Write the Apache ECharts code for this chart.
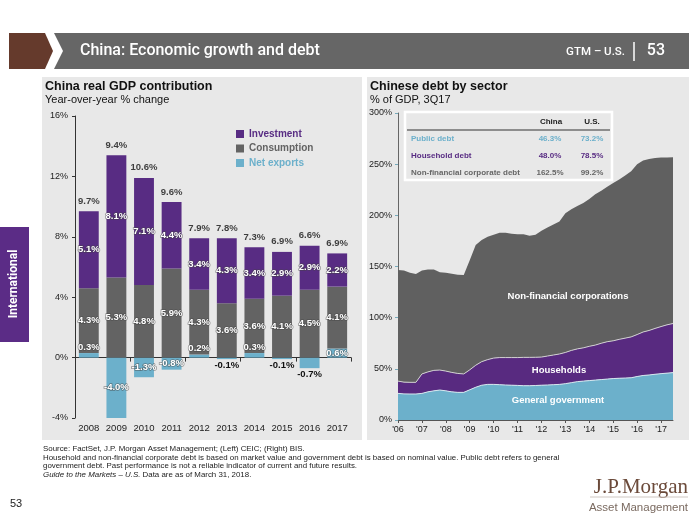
<!DOCTYPE html>
<html><head><meta charset="utf-8">
<script src="https://cdn.jsdelivr.net/npm/echarts@6/dist/echarts.min.js"></script>
<style>html,body{margin:0;padding:0;background:#fff}#c{width:700px;height:525px}</style>
</head><body><div id="c"></div>
<script>
// ---- Left chart: China real GDP contribution (YoY %) ----
const years = ['2008','2009','2010','2011','2012','2013','2014','2015','2016','2017'];
const investment  = [5.1, 8.1, 7.1, 4.4, 3.4, 4.3, 3.4, 2.9, 2.9, 2.2];
const consumption = [4.3, 5.3, 4.8, 5.9, 4.3, 3.6, 3.6, 4.1, 4.5, 4.1];
const netExports  = [0.3, -4.0, -1.3, -0.8, 0.2, -0.1, 0.3, -0.1, -0.7, 0.6];
const gdpTotal    = [9.7, 9.4, 10.6, 9.6, 7.9, 7.8, 7.3, 6.9, 6.6, 6.9];

// ---- Right chart: Chinese debt by sector (% of GDP), quarterly from 2006Q1 to 2017Q3 ----
const debtStartYear = 2006;
const govDebt = [26,25.5,25.4,25.4, 26,27.5,28.5,29.3, 28.5,27.5,27,27, 29.5,32,34,34.8,
  34.8,34.5,34.2,34, 33.8,33.5,33.5,33.7, 34,34.2,34.5,34.8, 35.5,36.5,37.5,38,
  38.5,39,39.5,40, 40.5,40.8,41,41.3, 42.5,43.5,44,44.7, 45.3,45.8,46.3];
const householdDebt = [12,11.5,11.4,11.4, 19,19.5,20,19.5, 19.3,19,18.5,18, 19.5,21.5,23,24.2,
  25.7,26.5,26.8,27, 27.2,27.7,27.7,27.6, 27.5,28.3,29,29.7, 30.5,31.5,32,32.5,
  33.5,34.2,35.5,36.5, 36.9,38,39,39.9, 41,42.5,43.5,44.8, 46,47.2,48.0];
const corporateDebt = [108.5,109,107.2,105.8, 101,100,98.5,95.7, 96.2,96.5,96.5,96.6, 107,117.5,119,120,
  120.5,122,122,121, 120.6,120.3,118.8,119.7, 123.5,125.5,127.5,129.5, 136,138,139.5,141.5,
  144,147.3,149,151.5, 154.1,156.2,159,161.8, 166.5,167.5,167.5,166.5, 165.2,163.5,162.5];
const debtYearLabels = ["'06","'07","'08","'09","'10","'11","'12","'13","'14","'15","'16","'17"];
const quarters = govDebt.map((v, i) => (debtStartYear + Math.floor(i / 4)) + 'Q' + (i % 4 + 1));

const tableRows  = ['Public debt', 'Household debt', 'Non-financial corporate debt'];
const chinaDebt  = ['46.3%', '48.0%', '162.5%'];
const usDebt     = ['73.2%', '78.5%', '99.2%'];

const C = {inv:'#582c83', con:'#636363', net:'#6cb0cb', corp:'#606060', panel:'#e8e8e8'};
const FF = '"Liberation Sans", Arial, sans-serif';
const FN = 'Roboto, "Liberation Sans", sans-serif';

const pct = v => v.toFixed(1) + '%';
const inLbl = {show:true, position:'inside', color:'#fff', fontSize:9.5, fontWeight:'bold', fontFamily:FF,
  textBorderColor:'rgba(70,70,70,0.55)', textBorderWidth:1.5,
  formatter: p => pct(p.value)};

const netData = netExports.map(v => {
  let label;
  if (v >= 0.5 || v <= -0.8) label = {position:'inside', color:'#fff'};
  else if (v > 0) label = {position:'top', color:'#fff', distance:1};
  else label = {position:'bottom', color:'#111', distance:1, textBorderWidth:0};
  return {value:v, label};
});
const topData = years.map((y, i) => {
  const s = [netExports[i], consumption[i], investment[i]].filter(v => v > 0).reduce((a, b) => a + b, 0);
  return [i, s];
});

const rowColors = [C.net, C.inv, '#666'];
const graphics = [
  {type:'rect', shape:{x:42,y:77,width:320,height:363}, style:{fill:C.panel}, z:-10},
  {type:'rect', shape:{x:367,y:77,width:322,height:363}, style:{fill:C.panel}, z:-10},
  {type:'polygon', shape:{points:[[9,33],[45,33],[53,51],[45,69],[9,69]]}, style:{fill:'#653a2c'}},
  {type:'polygon', shape:{points:[[54,33],[689,33],[689,69],[54,69],[63,51]]}, style:{fill:'#666666'}},
  {type:'text', x:80, y:51, style:{text:'China: Economic growth and debt', fill:'#fff', font:'500 16px '+FN, textVerticalAlign:'middle'}},
  {type:'text', x:625, y:52, style:{text:'GTM – U.S.', fill:'#fff', font:'500 11.5px '+FN, textAlign:'right', textVerticalAlign:'middle'}},
  {type:'line', shape:{x1:634,y1:42,x2:634,y2:61}, style:{stroke:'#fff', lineWidth:1.5}},
  {type:'text', x:665, y:51, style:{text:'53', fill:'#fff', font:'500 16px '+FN, textAlign:'right', textVerticalAlign:'middle'}},
  {type:'rect', shape:{x:0,y:227,width:29,height:115}, style:{fill:'#5b2c86'}},
  {type:'text', x:14, y:284, rotation:Math.PI/2, style:{text:'International', fill:'#fff', font:'bold 12px '+FN, textAlign:'center', textVerticalAlign:'middle'}},
  {type:'text', x:45, y:87, style:{text:'China real GDP contribution', fill:'#111', font:'bold 12.5px '+FF, textVerticalAlign:'middle'}},
  {type:'text', x:45, y:100, style:{text:'Year-over-year % change', fill:'#111', font:'11px '+FF, textVerticalAlign:'middle'}},
  {type:'text', x:370, y:87, style:{text:'Chinese debt by sector', fill:'#111', font:'bold 12.5px '+FF, textVerticalAlign:'middle'}},
  {type:'text', x:370, y:100, style:{text:'% of GDP, 3Q17', fill:'#111', font:'11px '+FF, textVerticalAlign:'middle'}},
  // table
  {type:'rect', shape:{x:405,y:112,width:207,height:68}, style:{fill:'none', stroke:'#fff', lineWidth:2.5}, z:50},
  {type:'text', x:551, y:122, style:{text:'China', fill:'#222', font:'bold 8px '+FF, textAlign:'center', textVerticalAlign:'middle'}, z:50},
  {type:'text', x:592, y:122, style:{text:'U.S.', fill:'#222', font:'bold 8px '+FF, textAlign:'center', textVerticalAlign:'middle'}, z:50},
  {type:'line', shape:{x1:407,y1:130,x2:610,y2:130}, style:{stroke:'#333', lineWidth:1.2}, z:50},
  ...tableRows.flatMap((r, i) => {
    const y = 139 + i * 16.8;
    return [
      {type:'text', x:411, y, style:{text:r, fill:rowColors[i], font:'bold 8px '+FF, textVerticalAlign:'middle'}, z:50},
      {type:'text', x:550, y, style:{text:chinaDebt[i], fill:rowColors[i], font:'bold 8px '+FF, textAlign:'center', textVerticalAlign:'middle'}, z:50},
      {type:'text', x:592, y, style:{text:usDebt[i], fill:rowColors[i], font:'bold 8px '+FF, textAlign:'center', textVerticalAlign:'middle'}, z:50}
    ];
  }),
  {type:'text', x:568, y:296, style:{text:'Non-financial corporations', fill:'#fff', font:'bold 9.5px '+FF, textAlign:'center', textVerticalAlign:'middle'}, z:50},
  {type:'text', x:559, y:370, style:{text:'Households', fill:'#fff', font:'bold 9.5px '+FF, textAlign:'center', textVerticalAlign:'middle'}, z:50},
  {type:'text', x:558, y:400, style:{text:'General government', fill:'#fff', font:'bold 9.5px '+FF, textAlign:'center', textVerticalAlign:'middle'}, z:50},
  // footer
  {type:'text', x:43, y:449, style:{text:'Source: FactSet, J.P. Morgan Asset Management; (Left) CEIC; (Right) BIS.', fill:'#222', font:'7.9px '+FF, textVerticalAlign:'middle'}},
  {type:'text', x:43, y:457.5, style:{text:'Household and non-financial corporate debt is based on market value and government debt is based on nominal value. Public debt refers to general', fill:'#222', font:'7.9px '+FF, textVerticalAlign:'middle'}},
  {type:'text', x:43, y:466, style:{text:'government debt. Past performance is not a reliable indicator of current and future results.', fill:'#222', font:'7.9px '+FF, textVerticalAlign:'middle'}},
  {type:'text', x:43, y:474.5, style:{text:'{i|Guide to the Markets – U.S.} Data are as of March 31, 2018.', fill:'#222', font:'7.9px '+FF, textVerticalAlign:'middle',
     rich:{i:{fontStyle:'italic', fontSize:7.9, fontFamily:FF, fill:'#222'}}}},
  {type:'text', x:10, y:504, style:{text:'53', fill:'#222', font:'11px '+FF, textVerticalAlign:'middle'}},
  {type:'text', x:688, y:487, style:{text:'J.P.Morgan', fill:'#6b4a3a', font:'21px "Liberation Serif", "DejaVu Serif", serif', textAlign:'right', textVerticalAlign:'middle'}},
  {type:'line', shape:{x1:590,y1:497,x2:688,y2:497}, style:{stroke:'#cfc7c2', lineWidth:1}},
  {type:'text', x:688, y:508, style:{text:'Asset Management', fill:'#7a6a60', font:'11.5px '+FF, textAlign:'right', textVerticalAlign:'middle'}}
];

const option = {
  animation:false,
  backgroundColor:'#fff',
  textStyle:{fontFamily:FF},
  grid:[{left:75, right:349, top:116, bottom:107}, {left:398, right:27, top:113, bottom:105}],
  legend:{left:231, top:124, orient:'vertical', itemWidth:8, itemHeight:8, itemGap:4.5, icon:'rect',
    textStyle:{fontSize:10, fontWeight:'bold', fontFamily:FF},
    data:[{name:'Investment', textStyle:{color:C.inv}}, {name:'Consumption', textStyle:{color:C.con}}, {name:'Net exports', textStyle:{color:C.net}}]},
  xAxis:[
    {gridIndex:0, type:'category', data:years, axisLine:{show:false, onZero:false}, axisTick:{show:false},
     axisLabel:{margin:5, fontSize:9.5, color:'#222'}},
    {gridIndex:0, type:'category', data:years, position:'bottom', axisLine:{show:true, onZero:true, lineStyle:{color:'#333'}},
     axisTick:{show:true, length:4, lineStyle:{color:'#333'}}, axisLabel:{show:false}},
    {gridIndex:1, type:'category', data:quarters, boundaryGap:false, axisLine:{lineStyle:{color:'#555'}},
     axisTick:{show:true, length:3, interval:i => i % 4 === 0, lineStyle:{color:'#555'}}, splitLine:{show:false},
     axisLabel:{margin:5, fontSize:9, color:'#222', interval:i => i % 4 === 0, formatter:(v, i) => debtYearLabels[i / 4]}}
  ],
  yAxis:[
    {gridIndex:0, type:'value', min:-4, max:16, interval:4, axisLine:{show:true, lineStyle:{color:'#333'}},
     axisTick:{show:true, length:3}, splitLine:{show:false}, axisLabel:{formatter:'{value}%', fontSize:9, color:'#222', margin:7}},
    {gridIndex:1, type:'value', min:0, max:300, interval:50, axisLine:{show:true, lineStyle:{color:'#666'}},
     axisTick:{show:true, length:3, lineStyle:{color:'#7ab'}}, splitLine:{show:false}, axisLabel:{formatter:'{value}%', fontSize:9, color:'#222', margin:6}}
  ],
  series:[
    {name:'Net exports', type:'bar', stack:'gdp', xAxisIndex:0, yAxisIndex:0, barCategoryGap:'28%', itemStyle:{color:C.net},
     label:{...inLbl}, data:netData},
    {name:'Consumption', type:'bar', stack:'gdp', xAxisIndex:0, yAxisIndex:0, itemStyle:{color:C.con}, label:inLbl, data:consumption},
    {name:'Investment', type:'bar', stack:'gdp', xAxisIndex:0, yAxisIndex:0, itemStyle:{color:C.inv}, label:inLbl, data:investment},
    {name:'Total', type:'scatter', xAxisIndex:0, yAxisIndex:0, symbolSize:0.1, itemStyle:{color:'transparent'}, z:10,
     label:{show:true, position:'top', distance:5, color:'#111', fontSize:9.5, fontWeight:'bold', formatter:p => pct(gdpTotal[p.dataIndex])},
     data:topData},
    {name:'General government', type:'line', xAxisIndex:2, yAxisIndex:1, stack:'debt', symbol:'none', z:4,
     lineStyle:{color:'#d6e6ee', width:1}, itemStyle:{color:C.net}, areaStyle:{color:C.net, opacity:1},
     data:govDebt},
    {name:'Households', type:'line', xAxisIndex:2, yAxisIndex:1, stack:'debt', symbol:'none', z:3,
     lineStyle:{color:'#d0d0d0', width:1}, itemStyle:{color:C.inv}, areaStyle:{color:'#582a80', opacity:1},
     data:householdDebt},
    {name:'Non-financial corporations', type:'line', xAxisIndex:2, yAxisIndex:1, stack:'debt', symbol:'none', z:2,
     lineStyle:{width:0}, itemStyle:{color:C.corp}, areaStyle:{color:C.corp, opacity:1},
     data:corporateDebt}
  ],
  graphic:{elements:graphics}
};
const chart = echarts.init(document.getElementById('c'), null, {renderer:'canvas'});
chart.setOption(option);
</script></body></html>
